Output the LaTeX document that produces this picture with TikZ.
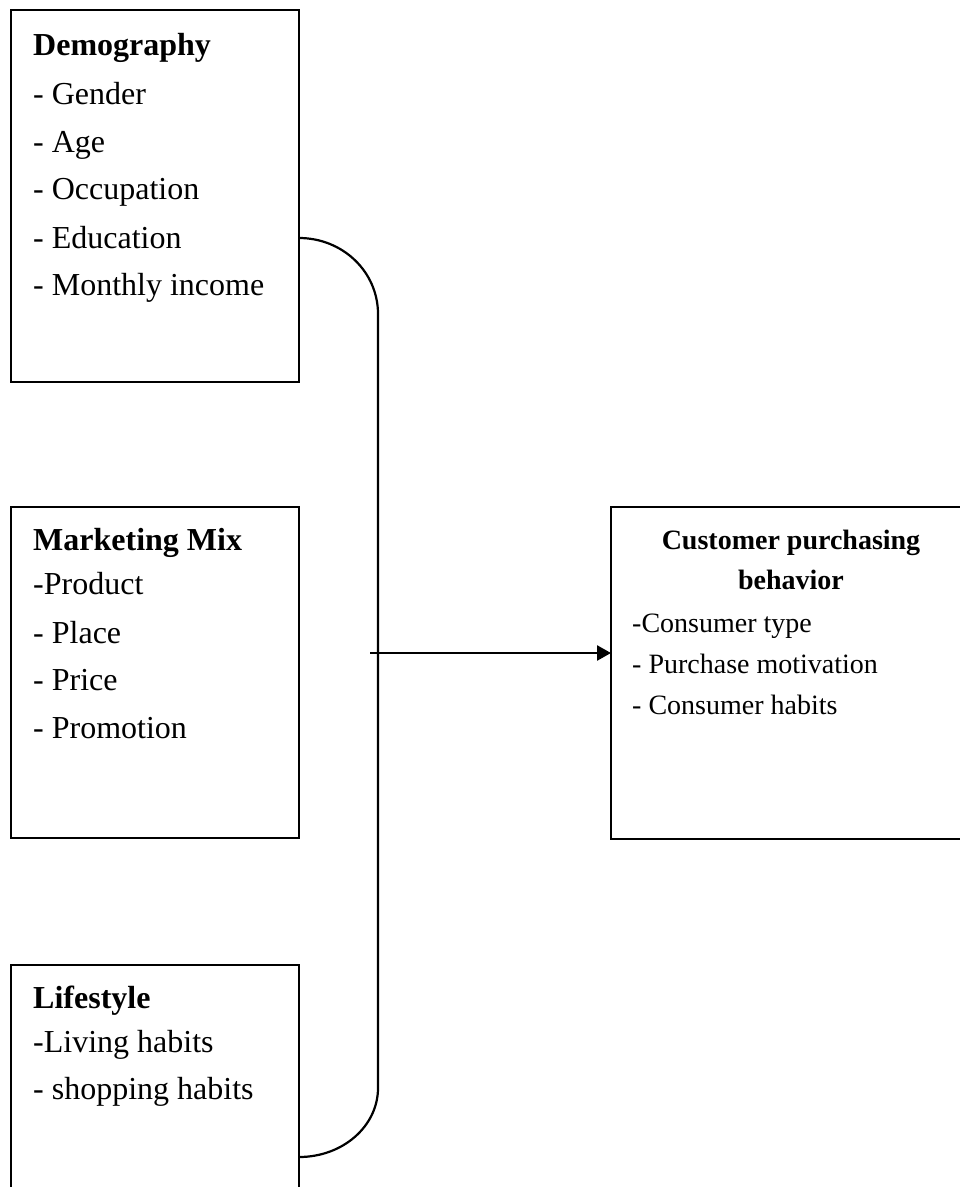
\documentclass[tikz,border=0pt]{standalone}
\usepackage{fontspec}
\setmainfont{Liberation Serif}
\usetikzlibrary{arrows.meta}
\begin{document}
\begin{tikzpicture}[x=1pt,y=-1pt,
  box/.style={draw, line width=2.2pt, rectangle, inner sep=0pt, outer sep=0pt, anchor=north west},
  lbl/.style={anchor=base west, inner sep=0pt, font=\fontsize{32}{38}\selectfont},
  lhead/.style={anchor=base west, inner sep=0pt, font=\fontsize{32}{38}\selectfont\bfseries},
  rlbl/.style={anchor=base west, inner sep=0pt, font=\fontsize{28}{34}\selectfont},
  rhead/.style={anchor=base, inner sep=0pt, font=\fontsize{28}{34}\selectfont\bfseries},
  link/.style={line width=2.2pt},
  arrowlink/.style={line width=2.6pt, -{Triangle[length=14pt,width=15pt]}}]
\useasboundingbox (0,0) rectangle (960,1187);
\clip (0,0) rectangle (960,1187);
% boxes
\node[box, minimum width=288pt, minimum height=372pt] (dem) at (11,10) {};
\node[box, minimum width=288pt, minimum height=331pt] (mkt) at (11,507) {};
\node[box, minimum width=288pt, minimum height=260pt] (life) at (11,965) {};
\node[box, minimum width=380pt, minimum height=332pt] (cpb) at (611,507) {};
% Demography
\node[lhead] (d0) at (33,55) {Demography};
\node[lbl] (d1) at (33,104) {- Gender};
\node[lbl] (d2) at (33,152) {- Age};
\node[lbl] (d3) at (33,199) {- Occupation};
\node[lbl] (d4) at (33,248) {- Education};
\node[lbl] (d5) at (33,295) {- Monthly income};
% Marketing mix
\node[lhead] (m0) at (33,550) {Marketing Mix};
\node[lbl] (m1) at (33,594) {-Product};
\node[lbl] (m2) at (33,643) {- Place};
\node[lbl] (m3) at (33,690) {- Price};
\node[lbl] (m4) at (33,738) {- Promotion};
% Lifestyle
\node[lhead] (l0) at (33,1008) {Lifestyle};
\node[lbl] (l1) at (33,1052) {-Living habits};
\node[lbl] (l2) at (33,1099) {- shopping habits};
% Customer purchasing behavior
\node[rhead] (c0) at (791,549) {Customer purchasing};
\node[rhead] (c1) at (791,589) {behavior};
\node[rlbl] (c2) at (632,632) {-Consumer type};
\node[rlbl] (c3) at (632,673) {- Purchase motivation};
\node[rlbl] (c4) at (632,714) {- Consumer habits};
% brace connector
\path (dem.north east) ++(0,228) coordinate (btop);
\path (life.north east) ++(0,192) coordinate (bbot);
\draw[link] (btop) .. controls (343,238) and (378,272) .. (378,314)
  -- (378,1088) .. controls (378,1126) and (343,1157) .. (bbot);
% arrow
\coordinate (astart) at (370,653);
\draw[arrowlink] (astart) -- (astart -| cpb.west);
\end{tikzpicture}
\end{document}
